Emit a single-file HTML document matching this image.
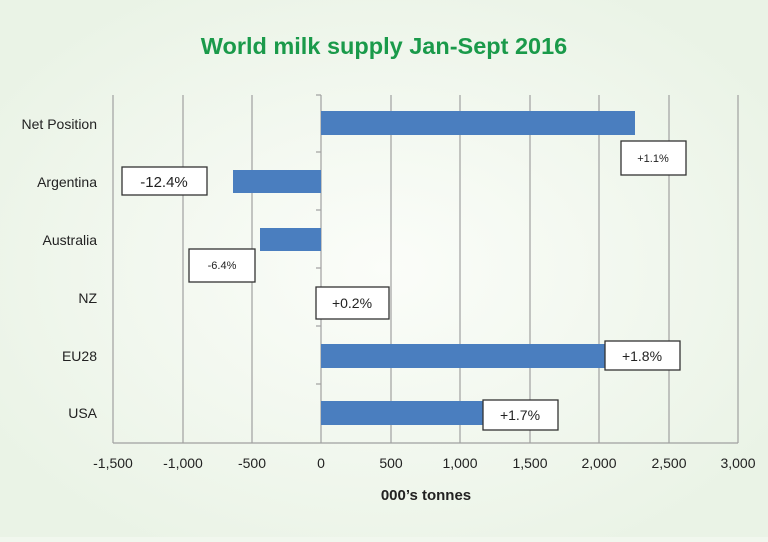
<!DOCTYPE html>
<html><head><style>
body{margin:0;width:768px;height:537px;background:#f1f7ee;font-family:"Liberation Sans",sans-serif;overflow:hidden}
</style></head><body>
<svg width="768" height="537" xmlns="http://www.w3.org/2000/svg">
<defs><radialGradient id="g" cx="50%" cy="50%" r="60%"><stop offset="0" stop-color="#fbfdf9"/><stop offset="1" stop-color="#eaf3e6"/></radialGradient></defs>
<rect width="768" height="537" fill="url(#g)"/>
<text x="384" y="54" text-anchor="middle" font-size="23.5" font-weight="bold" fill="#1a9a4a">World milk supply Jan-Sept 2016</text>
<g stroke="#a0a0a0" stroke-width="1.2">
<line x1="113" y1="95" x2="113" y2="443"/><line x1="183" y1="95" x2="183" y2="443"/><line x1="252" y1="95" x2="252" y2="443"/>
<line x1="391" y1="95" x2="391" y2="443"/><line x1="460" y1="95" x2="460" y2="443"/><line x1="530" y1="95" x2="530" y2="443"/>
<line x1="599" y1="95" x2="599" y2="443"/><line x1="669" y1="95" x2="669" y2="443"/><line x1="738" y1="95" x2="738" y2="443"/>
<line x1="321" y1="95" x2="321" y2="443"/><line x1="113" y1="443" x2="738" y2="443"/>
<line x1="316" y1="95" x2="321" y2="95"/><line x1="316" y1="152" x2="321" y2="152"/><line x1="316" y1="210" x2="321" y2="210"/><line x1="316" y1="268" x2="321" y2="268"/><line x1="316" y1="326" x2="321" y2="326"/><line x1="316" y1="384" x2="321" y2="384"/>
</g>
<g fill="#4a7ebf">
<rect x="321" y="111" width="314" height="24"/>
<rect x="233" y="170" width="88" height="23"/>
<rect x="260" y="228" width="61" height="23"/>
<rect x="321" y="344" width="290" height="24"/>
<rect x="321" y="401" width="164" height="24"/>
</g>
<g font-size="14" fill="#222" text-anchor="end">
<text x="97" y="129">Net Position</text><text x="97" y="187">Argentina</text><text x="97" y="245">Australia</text>
<text x="97" y="303">NZ</text><text x="97" y="361">EU28</text><text x="97" y="418">USA</text>
</g>
<g font-size="14" fill="#222" text-anchor="middle">
<text x="113" y="468">-1,500</text><text x="183" y="468">-1,000</text><text x="252" y="468">-500</text><text x="321" y="468">0</text>
<text x="391" y="468">500</text><text x="460" y="468">1,000</text><text x="530" y="468">1,500</text><text x="599" y="468">2,000</text>
<text x="669" y="468">2,500</text><text x="738" y="468">3,000</text>
<text x="426" y="500" font-weight="bold" font-size="15">000’s tonnes</text>
</g>
<g fill="#fff" stroke="#333" stroke-width="1.3">
<rect x="122" y="167" width="85" height="28"/><rect x="189" y="249" width="66" height="33"/>
<rect x="621" y="141" width="65" height="34"/><rect x="316" y="287" width="73" height="32"/>
<rect x="605" y="341" width="75" height="29"/><rect x="483" y="400" width="75" height="30"/>
</g>
<g fill="#222" text-anchor="middle">
<text x="164" y="187" font-size="15">-12.4%</text><text x="222" y="269" font-size="11">-6.4%</text>
<text x="653" y="162" font-size="11">+1.1%</text><text x="352" y="308" font-size="14">+0.2%</text>
<text x="642" y="361" font-size="14">+1.8%</text><text x="520" y="420" font-size="14">+1.7%</text>
</g>
</svg>
</body></html>
